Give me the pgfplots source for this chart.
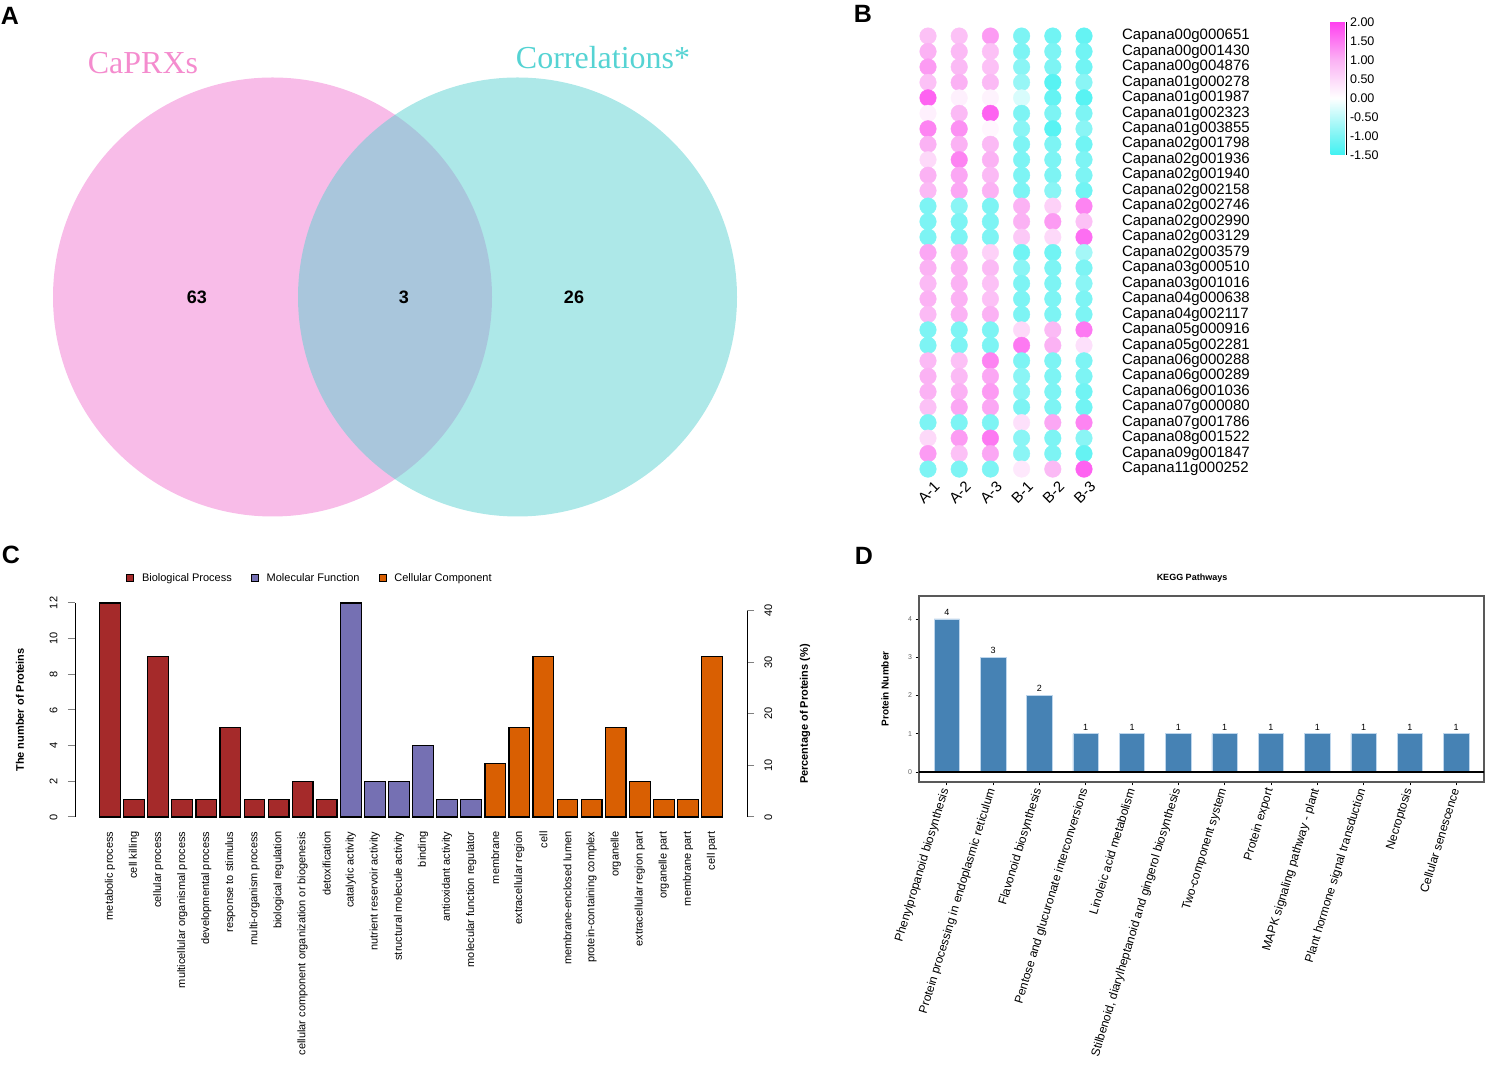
\documentclass[border=0pt]{standalone}
\usepackage{pgfplots}
\usepackage{pgfplotstable}
\pgfplotsset{compat=1.18}
\usepackage{fontspec}
\setmainfont{Liberation Sans}
\newfontfamily\seriffont{Liberation Serif}
\newcommand\fsz[1]{\fontsize{#1}{#1}\selectfont}

\definecolor{vennpink}{RGB}{241,121,209}
\definecolor{venncyan}{RGB}{91,209,209}
\definecolor{pinktxt}{RGB}{244,140,206}
\definecolor{cyantxt}{RGB}{85,211,211}
\definecolor{bp}{RGB}{165,42,42}
\definecolor{mf}{RGB}{117,112,179}
\definecolor{cc}{RGB}{217,95,2}
\definecolor{steel}{RGB}{70,130,180}
\definecolor{barline}{RGB}{190,214,236}

\pgfplotsset{
  every axis/.append style={/pgf/number format/assume math mode=true},
  colormap={pinkcyan}{rgb255(0cm)=(64,242,242) rgb255(0.5cm)=(125,244,244) rgb255(1.5cm)=(255,255,255)
    rgb255(2.5cm)=(251,178,244) rgb255(3.5cm)=(255,64,240)}
}

% expression values (rows = genes, top to bottom)
\pgfplotstableread{
r  A1   A2   A3    B1   B2   B3
1  0.8  0.8  1.2  -1.0 -1.1 -1.2
2  1.0  0.9  0.8  -1.0 -1.0 -1.1
3  1.2  0.9  0.8  -0.9 -1.0 -1.1
4  0.8  1.0  0.9  -0.8 -1.3 -0.9
5  1.7  0.2  0.15 -0.3 -1.2 -1.3
6  0.2  0.9  1.7  -1.0 -1.0 -1.0
7  1.4  1.3  0.1  -0.9 -1.3 -0.9
8  1.0  1.0  0.9  -1.0 -1.0 -1.1
9  0.5  1.4  1.0  -1.0 -1.0 -1.0
10 1.0  1.1  0.9  -1.0 -1.0 -1.0
11 0.9  1.1  1.0  -1.0 -0.9 -1.1
12 -1.0 -0.9 -1.0  1.0  0.6  1.4
13 -1.0 -1.0 -1.0  1.0  1.2  0.8
14 -1.0 -1.0 -1.0  0.7  0.5  1.6
15 1.1  1.0  0.6  -1.1 -1.1 -0.7
16 1.0  1.0  0.9  -0.9 -1.0 -1.0
17 0.9  1.0  0.8  -1.0 -1.0 -0.9
18 1.0  1.0  0.8  -1.0 -1.0 -1.0
19 0.9  1.0  1.0  -1.0 -1.0 -1.0
20 -1.0 -1.0 -1.0  0.5  0.9  1.5
21 -1.0 -1.0 -1.0  1.5  1.0  0.4
22 0.9  0.8  1.4  -1.0 -1.0 -1.0
23 1.0  0.9  1.1  -0.9 -1.0 -1.0
24 1.0  1.0  1.2  -0.9 -1.0 -1.1
25 0.8  1.1  1.1  -1.0 -1.0 -1.1
26 -1.0 -1.0 -1.0  0.4  1.1  1.4
27 0.5  1.2  1.5  -0.9 -1.0 -0.9
28 1.2  0.8  1.1  -0.9 -1.0 -1.2
29 -1.0 -1.0 -1.0  0.3  0.9  1.7
}\heat

\begin{document}
\begin{tikzpicture}[x=1pt,y=1pt]
\path[use as bounding box] (0,0) rectangle (1489,1065);

% ---------------- A: Venn
\begin{axis}[at={(0pt,520pt)}, anchor=south west, scale only axis,
  width=790pt, height=545pt, xmin=0, xmax=790, ymin=520, ymax=1065,
  hide axis, clip=false]
\addplot[only marks, mark=*, mark size=219.5pt,
  mark options={draw opacity=0, fill=vennpink, fill opacity=0.5}] coordinates {(272.5,768)};
\addplot[only marks, mark=*, mark size=219.5pt,
  mark options={draw opacity=0, fill=venncyan, fill opacity=0.5}] coordinates {(517.5,768)};
\end{axis}
\node[font=\seriffont\fsz{32}, text=pinktxt] at (143,1002) {CaPRXs};
\node[font=\seriffont\fsz{32}, text=cyantxt] at (603,1007) {Correlations*};
\node[font=\bfseries\fsz{18}] at (197,768) {63};
\node[font=\bfseries\fsz{18}] at (404,768) {3};
\node[font=\bfseries\fsz{18}] at (574,768) {26};

% ---------------- B: dot heatmap
\begin{axis}[at={(912.4pt,588.2pt)}, anchor=south west, scale only axis,
  width=187.2pt, height=448.5pt, xmin=0.5, xmax=6.5, ymin=0.5, ymax=29.5,
  y dir=reverse, axis line style={draw=none}, tick style={draw=none},
  xtick={1,...,6}, xticklabels={A-1,A-2,A-3,B-1,B-2,B-3},
  xticklabel style={xshift=9pt, yshift=-7pt, rotate=45, anchor=east, font=\fsz{15}, inner sep=0pt},
  ytick={1,...,29},
  yticklabels={Capana00g000651,Capana00g001430,Capana00g004876,Capana01g000278,
    Capana01g001987,Capana01g002323,Capana01g003855,Capana02g001798,Capana02g001936,
    Capana02g001940,Capana02g002158,Capana02g002746,Capana02g002990,Capana02g003129,
    Capana02g003579,Capana03g000510,Capana03g001016,Capana04g000638,Capana04g002117,
    Capana05g000916,Capana05g002281,Capana06g000288,Capana06g000289,Capana06g001036,
    Capana07g000080,Capana07g001786,Capana08g001522,Capana09g001847,Capana11g000252},
  yticklabel pos=right,
  yticklabel style={anchor=west, font=\fsz{15}, xshift=19pt},
  colormap name=pinkcyan, point meta min=-1.5, point meta max=2,
  colorbar,
  colorbar style={at={(parent axis.north east)}, anchor=north west,
    xshift=222.4pt, yshift=6.3pt, scale only axis, width=16pt, height=133pt,
    ytick={-1.5,-1,...,2}, axis x line=none, axis y line*=right,
    ytick align=outside, major tick length=3pt,
    y axis line style={line width=1.2pt}, ytick style={line width=1.2pt},
    yticklabel style={font=\fsz{12.5}, xshift=-3pt, /pgf/number format/.cd, fixed, fixed zerofill, precision=2, assume math mode=true}},
  clip=false]
\addplot[scatter, only marks, mark=*, mark size=8.3pt, scatter src=explicit,
  scatter/use mapped color={draw=mapped color, fill=mapped color}] table[x expr=1, y=r, meta=A1] {\heat};
\addplot[scatter, only marks, mark=*, mark size=8.3pt, scatter src=explicit,
  scatter/use mapped color={draw=mapped color, fill=mapped color}] table[x expr=2, y=r, meta=A2] {\heat};
\addplot[scatter, only marks, mark=*, mark size=8.3pt, scatter src=explicit,
  scatter/use mapped color={draw=mapped color, fill=mapped color}] table[x expr=3, y=r, meta=A3] {\heat};
\addplot[scatter, only marks, mark=*, mark size=8.3pt, scatter src=explicit,
  scatter/use mapped color={draw=mapped color, fill=mapped color}] table[x expr=4, y=r, meta=B1] {\heat};
\addplot[scatter, only marks, mark=*, mark size=8.3pt, scatter src=explicit,
  scatter/use mapped color={draw=mapped color, fill=mapped color}] table[x expr=5, y=r, meta=B2] {\heat};
\addplot[scatter, only marks, mark=*, mark size=8.3pt, scatter src=explicit,
  scatter/use mapped color={draw=mapped color, fill=mapped color}] table[x expr=6, y=r, meta=B3] {\heat};
\end{axis}

% ---------------- C: GO bars
\begin{axis}[at={(75pt,248pt)}, anchor=south west, scale only axis,
  width=672pt, height=214pt, xmin=-0.4535, xmax=27.453, ymin=0, ymax=12,
  axis y line*=left, axis x line*=bottom, x axis line style={draw=none},
  y axis line style={line width=1pt},
  xtick={1,...,26}, xtick style={draw=none},
  xticklabels={metabolic process,cell killing,cellular process,multicellular organismal process,
    developmental process,response to stimulus,multi{-}organism process,biological regulation,
    cellular component organization or biogenesis,detoxification,catalytic activity,
    nutrient reservoir activity,structural molecule activity,binding,antioxidant activity,
    molecular function regulator,membrane,extracellular region,cell,membrane{-}enclosed lumen,
    protein{-}containing complex,organelle,extracellular region part,organelle part,membrane part,cell part},
  xticklabel style={rotate=90, anchor=east, font=\fsz{11}},
  xticklabel shift=11pt,
  ytick={0,2,...,12}, ytick align=outside, major tick length=7pt,
  ytick style={line width=1pt},
  yticklabel style={rotate=90, anchor=south, font=\fsz{11}},
  yticklabel shift=7pt,
  clip=false,
  legend style={at={(0.0759,1.117)}, anchor=west, draw=none, fill=none,
    inner sep=0pt, font=\fsz{11}, legend columns=3,
    /tikz/every even column/.append style={column sep=17pt}},
  legend cell align=left]
\addlegendimage{legend image code/.code={\draw[fill=bp,draw=black,line width=1.2pt] (0pt,-3.5pt) rectangle (7pt,3.5pt); \path (13pt,0pt);}}
\addlegendimage{legend image code/.code={\draw[fill=mf,draw=black,line width=1.2pt] (0pt,-3.5pt) rectangle (7pt,3.5pt); \path (13pt,0pt);}}
\addlegendimage{legend image code/.code={\draw[fill=cc,draw=black,line width=1.2pt] (0pt,-3.5pt) rectangle (7pt,3.5pt); \path (13pt,0pt);}}
\addplot[ybar, bar width=0.86, bar shift=0pt, fill=bp, draw=black, line width=1.2pt, forget plot]
  coordinates {(1,12) (2,1) (3,9) (4,1) (5,1) (6,5) (7,1) (8,1) (9,2) (10,1)};
\addplot[ybar, bar width=0.86, bar shift=0pt, fill=mf, draw=black, line width=1.2pt, forget plot]
  coordinates {(11,12) (12,2) (13,2) (14,4) (15,1) (16,1)};
\addplot[ybar, bar width=0.86, bar shift=0pt, fill=cc, draw=black, line width=1.2pt, forget plot]
  coordinates {(17,3) (18,5) (19,9) (20,1) (21,1) (22,5) (23,2) (24,1) (25,1) (26,9)};
\legend{Biological Process, Molecular Function, Cellular Component}
\end{axis}
\begin{axis}[at={(75pt,248pt)}, anchor=south west, scale only axis,
  width=672pt, height=206.3pt, xmin=-0.4535, xmax=27.453, ymin=0, ymax=40,
  axis y line*=right, axis x line=none, y axis line style={line width=1pt},
  ytick={0,10,...,40}, ytick align=outside, major tick length=7pt,
  ytick style={line width=1pt},
  yticklabel style={rotate=90, anchor=north, font=\fsz{11}},
  yticklabel shift=7pt]
\addplot[draw=none, forget plot] coordinates {(0,0)};
\end{axis}
\node[rotate=90, font=\bfseries\fsz{11}] at (20,355) {The number of Proteins};
\node[rotate=90, font=\bfseries\fsz{11}] at (805,351) {Percentage of Proteins (\%)};

% ---------------- D: KEGG
\begin{axis}[at={(919pt,283pt)}, anchor=south west, scale only axis,
  width=565pt, height=186pt, xmin=0.4, xmax=12.6, ymin=-0.261, ymax=4.601,
  axis line style={draw=black!65, line width=1.2pt},
  xtick={1,...,12}, xtick pos=bottom, ytick pos=left, tick align=outside,
  major tick length=3.5pt, tick style={black, line width=0.8pt},
  xticklabels={Phenylpropanoid biosynthesis,Protein processing in endoplasmic reticulum,
    Flavonoid biosynthesis,Pentose and glucuronate interconversions,Linoleic acid metabolism,
    {Stilbenoid, diarylheptanoid and gingerol biosynthesis},Two{-}component system,Protein export,
    MAPK signaling pathway {-} plant,Plant hormone signal transduction,Necroptosis,Cellular senescence},
  xticklabel style={rotate=73, anchor=east, font=\fsz{12}},
  ytick={0,...,4}, yticklabel style={font=\fsz{7}, text=black!60},
  clip=false]
\addplot[ybar, bar width=0.55, bar shift=0pt, fill=steel, draw=barline, line width=0.6pt,
  nodes near coords, nodes near coords style={font=\fsz{9}, anchor=south, yshift=0pt}]
  coordinates {(1,4) (2,3) (3,2) (4,1) (5,1) (6,1) (7,1) (8,1) (9,1) (10,1) (11,1) (12,1)};
\addplot[black, line width=2.5pt, forget plot] coordinates {(0.4,0) (12.6,0)};
\end{axis}
\node[font=\bfseries\fsz{9}] at (1192,487) {KEGG Pathways};
\node[rotate=90, font=\bfseries\fsz{10}] at (885,376) {Protein Number};

% panel letters
\node[font=\bfseries\fsz{25}] at (10,1049) {A};
\node[font=\bfseries\fsz{25}] at (863,1051) {B};
\node[font=\bfseries\fsz{25}] at (11,510) {C};
\node[font=\bfseries\fsz{25}] at (864,509) {D};
\end{tikzpicture}
\end{document}
